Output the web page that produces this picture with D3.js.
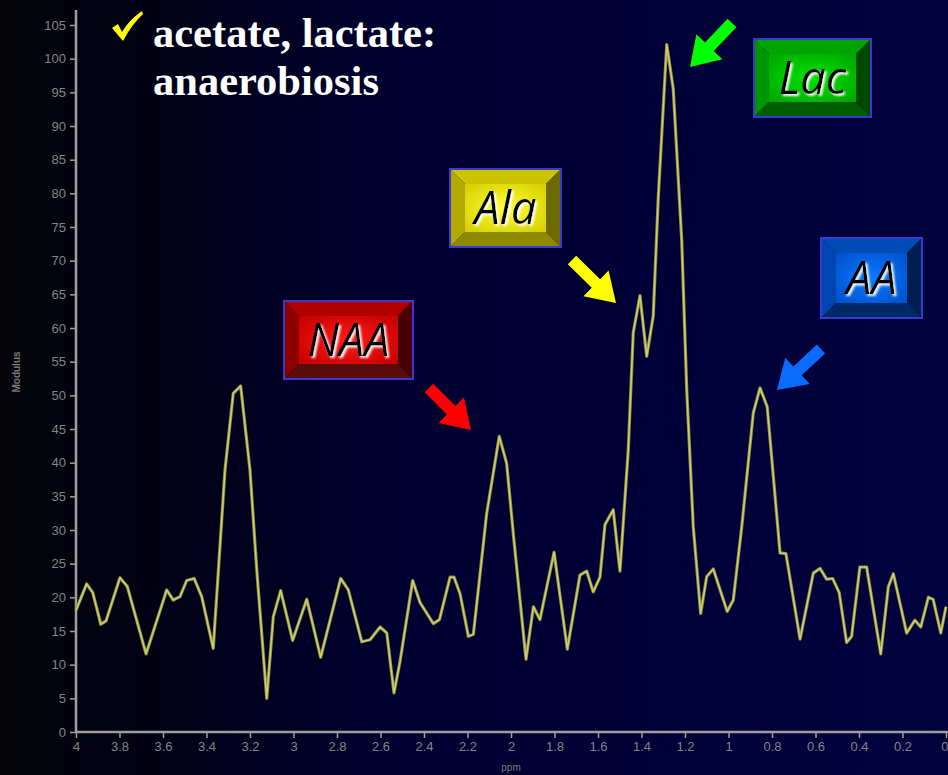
<!DOCTYPE html>
<html>
<head>
<meta charset="utf-8">
<script src="https://cdn.jsdelivr.net/npm/d3@7"></script>
<style>
  html, body { margin: 0; padding: 0; background: #000; }
  svg { display: block; }
</style>
</head>
<body>
<svg id="chart" width="948" height="775"></svg>
<script>
// Chemical shift (ppm) and signal modulus of the spectrum trace
const ppm = [4.000, 3.951, 3.923, 3.886, 3.862, 3.798, 3.764, 3.678, 3.583, 3.553,
  3.522, 3.491, 3.457, 3.422, 3.369, 3.315, 3.277, 3.243, 3.200, 3.169,
  3.123, 3.093, 3.059, 3.004, 2.939, 2.875, 2.783, 2.748, 2.686, 2.648,
  2.602, 2.571, 2.538, 2.510, 2.452, 2.418, 2.357, 2.329, 2.280, 2.262,
  2.234, 2.196, 2.173, 2.112, 2.054, 2.020, 1.989, 1.931, 1.897, 1.867,
  1.802, 1.741, 1.683, 1.652, 1.622, 1.591, 1.568, 1.530, 1.499, 1.461,
  1.438, 1.407, 1.376, 1.346, 1.323, 1.284, 1.254, 1.215, 1.192, 1.162,
  1.128, 1.100, 1.070, 1.006, 0.978, 0.939, 0.886, 0.855, 0.822, 0.763,
  0.736, 0.671, 0.610, 0.579, 0.549, 0.521, 0.491, 0.457, 0.434, 0.396,
  0.365, 0.300, 0.265, 0.242, 0.181, 0.143, 0.116, 0.081, 0.059, 0.024, 0.000];
const modulus = [18.1, 22.0, 20.7, 16.0, 16.5, 22.9, 21.6, 11.6, 21.1, 19.6,
  20.1, 22.5, 22.8, 20.1, 12.4, 38.9, 50.3, 51.4, 38.9, 24.1,
  5.0, 17.1, 21.0, 13.6, 19.7, 11.1, 22.8, 21.1, 13.4, 13.7,
  15.6, 14.7, 5.8, 10.5, 22.5, 19.2, 16.1, 16.7, 23.0, 23.0,
  20.5, 14.2, 14.5, 32.4, 43.9, 39.9, 29.3, 10.8, 18.6, 16.7,
  26.7, 12.3, 23.3, 23.9, 20.8, 23.0, 30.8, 33.0, 23.9, 41.8,
  59.3, 64.8, 55.8, 61.8, 79.3, 102.1, 95.5, 73.0, 50.8, 30.5,
  17.6, 23.1, 24.2, 17.9, 19.6, 30.5, 47.4, 51.1, 48.3, 26.6,
  26.5, 13.8, 23.6, 24.3, 22.7, 22.8, 20.7, 13.3, 14.2, 24.5,
  24.5, 11.6, 21.6, 23.5, 14.7, 16.6, 15.6, 20.0, 19.7, 14.7, 18.6];

// Axis ticks
const xTicks = [4, 3.8, 3.6, 3.4, 3.2, 3, 2.8, 2.6, 2.4, 2.2, 2, 1.8, 1.6, 1.4, 1.2, 1, 0.8, 0.6, 0.4, 0.2, 0];
const yTicks = d3.range(0, 106, 5);

// Metabolite labels
const labelNames = ["NAA", "Ala", "Lac", "AA"];
const titleLines = ["acetate, lactate:", "anaerobiosis"];

const svg = d3.select("#chart");
const W = 948, H = 775;
const defs = svg.append("defs");

// Background: near-black on the left fading into deep navy
const bg = defs.append("linearGradient").attr("id", "bg").attr("x1", 0).attr("x2", 1).attr("y1", 0).attr("y2", 0);
bg.append("stop").attr("offset", "0%").attr("stop-color", "#030308");
bg.append("stop").attr("offset", "15%").attr("stop-color", "#010114");
bg.append("stop").attr("offset", "42%").attr("stop-color", "#000030");
bg.append("stop").attr("offset", "75%").attr("stop-color", "#00003a");
bg.append("stop").attr("offset", "100%").attr("stop-color", "#02023e");
svg.append("rect").attr("width", W).attr("height", H).attr("fill", "url(#bg)");

const x = d3.scaleLinear().domain([4, 0]).range([76, 946]);
const y = d3.scaleLinear().domain([0, 105]).range([732, 25]);

const axisColor = "#9e9e9e";
const tickText = "#858585";

// Y axis
const yAxis = svg.append("g").attr("transform", `translate(${x(4)},0)`)
  .call(d3.axisLeft(y).tickValues(yTicks).tickSize(6).tickSizeOuter(0).tickFormat(d3.format("d")));
yAxis.select(".domain").remove();
yAxis.selectAll(".tick line").attr("stroke", axisColor).attr("stroke-width", 1.5);
yAxis.selectAll(".tick text").attr("fill", tickText).attr("font-family", "Liberation Sans, Arial, sans-serif")
  .attr("font-size", 13).attr("x", -10);
svg.append("line").attr("x1", x(4)).attr("x2", x(4)).attr("y1", 10).attr("y2", y(0))
  .attr("stroke", axisColor).attr("stroke-width", 2.5);

// X axis
const xAxis = svg.append("g").attr("transform", `translate(0,${y(0)})`)
  .call(d3.axisBottom(x).tickValues(xTicks).tickSize(6).tickSizeOuter(0).tickFormat(d => String(d)));
xAxis.select(".domain").remove();
xAxis.selectAll(".tick line").attr("stroke", axisColor).attr("stroke-width", 1.5);
xAxis.selectAll(".tick text").attr("fill", tickText).attr("font-family", "Liberation Sans, Arial, sans-serif")
  .attr("font-size", 13).attr("y", 10);
// keep the last label inside the frame
xAxis.selectAll(".tick text").filter(d => d === 0).attr("text-anchor", "end").attr("dx", 2);
svg.append("line").attr("x1", x(4)).attr("x2", W).attr("y1", y(0)).attr("y2", y(0))
  .attr("stroke", axisColor).attr("stroke-width", 2.5);

// Axis titles
svg.append("text").attr("x", x(2)).attr("y", 771).attr("text-anchor", "middle")
  .attr("fill", "#7a7a7a").attr("font-family", "Liberation Sans, Arial, sans-serif").attr("font-size", 10)
  .text("ppm");
svg.append("text").attr("transform", "translate(20,372) rotate(-90)").attr("text-anchor", "middle")
  .attr("fill", "#7a7a7a").attr("font-family", "Liberation Sans, Arial, sans-serif").attr("font-size", 10)
  .attr("font-weight", "bold").text("Modulus");

// Spectrum trace
const glow = defs.append("filter").attr("id", "soft").attr("x", "-5%").attr("y", "-5%").attr("width", "110%").attr("height", "110%");
glow.append("feGaussianBlur").attr("stdDeviation", 0.6);

const points = ppm.map((p, i) => [p, modulus[i]]);
const line = d3.line().x(d => x(d[0])).y(d => y(d[1]));
svg.append("path").datum(points).attr("d", line).attr("fill", "none")
  .attr("stroke", "#8a8a3c").attr("stroke-width", 3.2).attr("stroke-linejoin", "round").attr("filter", "url(#soft)");
svg.append("path").datum(points).attr("d", line).attr("fill", "none")
  .attr("stroke", "#cfcf72").attr("stroke-width", 1.5).attr("stroke-linejoin", "round");

// Title with check mark
svg.append("path")
  .attr("d", "M112,28 L118,24 L122,32 Q129,20 142,11 L143,14 Q132,24 123,41 Z")
  .attr("fill", "#ffff00");
const title = svg.append("text").attr("fill", "#ffffff")
  .attr("font-family", "Liberation Serif, Times New Roman, serif").attr("font-weight", "bold").attr("font-size", 42.5);
title.append("tspan").attr("x", 153).attr("y", 47).text(titleLines[0]);
title.append("tspan").attr("x", 153).attr("y", 95).text(titleLines[1]);

// Bevelled label boxes
const palettes = {
  NAA: { c0: "#ff1a1a", c1: "#c80000", top: "#b00000", left: "#8c0000", right: "#480000", bottom: "#5a0c0c" },
  Ala: { c0: "#ffff3a", c1: "#d8d000", top: "#ccc400", left: "#b2aa00", right: "#6e6800", bottom: "#8e8800" },
  Lac: { c0: "#00e400", c1: "#00a800", top: "#00a400", left: "#009600", right: "#004a00", bottom: "#005c00" },
  AA:  { c0: "#0a7aff", c1: "#0052d0", top: "#004cb4", left: "#0046b0", right: "#001e52", bottom: "#002a66" }
};
const boxes = {
  NAA: [284, 301, 413, 379],
  Ala: [450, 169, 561, 247],
  Lac: [754, 39, 871, 117],
  AA:  [821, 238, 922, 318]
};

// Black lettering with a soft white offset halo
const halo = defs.append("filter").attr("id", "halo").attr("x", "-20%").attr("y", "-20%").attr("width", "140%").attr("height", "140%");
halo.append("feOffset").attr("in", "SourceAlpha").attr("dx", 2).attr("dy", 2).attr("result", "off");
halo.append("feGaussianBlur").attr("in", "off").attr("stdDeviation", 0.9).attr("result", "blur");
halo.append("feFlood").attr("flood-color", "#ffffff").attr("result", "white");
halo.append("feComposite").attr("in", "white").attr("in2", "blur").attr("operator", "in").attr("result", "shadow");
const hm = halo.append("feMerge");
hm.append("feMergeNode").attr("in", "shadow");
hm.append("feMergeNode").attr("in", "SourceGraphic");

labelNames.forEach(name => {
  const [x0, y0, x1, y1] = boxes[name];
  const p = palettes[name];
  const b = 15;
  const g = svg.append("g");
  const rg = defs.append("radialGradient").attr("id", "face" + name).attr("cx", "50%").attr("cy", "50%").attr("r", "65%");
  rg.append("stop").attr("offset", "0%").attr("stop-color", p.c0);
  rg.append("stop").attr("offset", "100%").attr("stop-color", p.c1);
  const poly = (pts, fill) => g.append("polygon").attr("points", pts.map(d => d.join(",")).join(" ")).attr("fill", fill);
  poly([[x0, y0], [x1, y0], [x1 - b, y0 + b], [x0 + b, y0 + b]], p.top);
  poly([[x0, y0], [x0 + b, y0 + b], [x0 + b, y1 - b], [x0, y1]], p.left);
  poly([[x1, y0], [x1, y1], [x1 - b, y1 - b], [x1 - b, y0 + b]], p.right);
  poly([[x0, y1], [x0 + b, y1 - b], [x1 - b, y1 - b], [x1, y1]], p.bottom);
  g.append("rect").attr("x", x0 + b).attr("y", y0 + b).attr("width", x1 - x0 - 2 * b).attr("height", y1 - y0 - 2 * b)
    .attr("fill", `url(#face${name})`);
  g.append("rect").attr("x", x0).attr("y", y0).attr("width", x1 - x0).attr("height", y1 - y0)
    .attr("fill", "none").attr("stroke", "#3a3ad0").attr("stroke-width", 2);
  g.append("text").attr("x", (x0 + x1) / 2).attr("y", (y0 + y1) / 2 + 16)
    .attr("text-anchor", "middle").attr("font-family", "Open Sans, Noto Sans, sans-serif")
    .attr("font-style", "italic").attr("font-size", 45).attr("fill", "#000000")
    .attr("filter", "url(#halo)").text(name);
});

// Block arrows pointing at the peaks: [tailX, tailY, tipX, tipY, colour]
const arrows = [
  [429, 388, 471, 430, "#ff0000"],
  [572, 260, 616, 303, "#ffff00"],
  [732, 23, 690, 67, "#00ff00"],
  [821, 349, 777, 390, "#0a6cff"]
];
arrows.forEach(([tx, ty, hx, hy, col]) => {
  const dx = hx - tx, dy = hy - ty, L = Math.hypot(dx, dy);
  const ux = dx / L, uy = dy / L, nx = -uy, ny = ux;
  const sw = 6, hw = 18, hl = 28;
  const bx = hx - ux * hl, by = hy - uy * hl;
  const pts = [
    [tx + nx * sw, ty + ny * sw], [bx + nx * sw, by + ny * sw], [bx + nx * hw, by + ny * hw],
    [hx, hy],
    [bx - nx * hw, by - ny * hw], [bx - nx * sw, by - ny * sw], [tx - nx * sw, ty - ny * sw]
  ];
  svg.append("polygon").attr("points", pts.map(d => d.join(",")).join(" ")).attr("fill", col);
});
</script>
</body>
</html>
